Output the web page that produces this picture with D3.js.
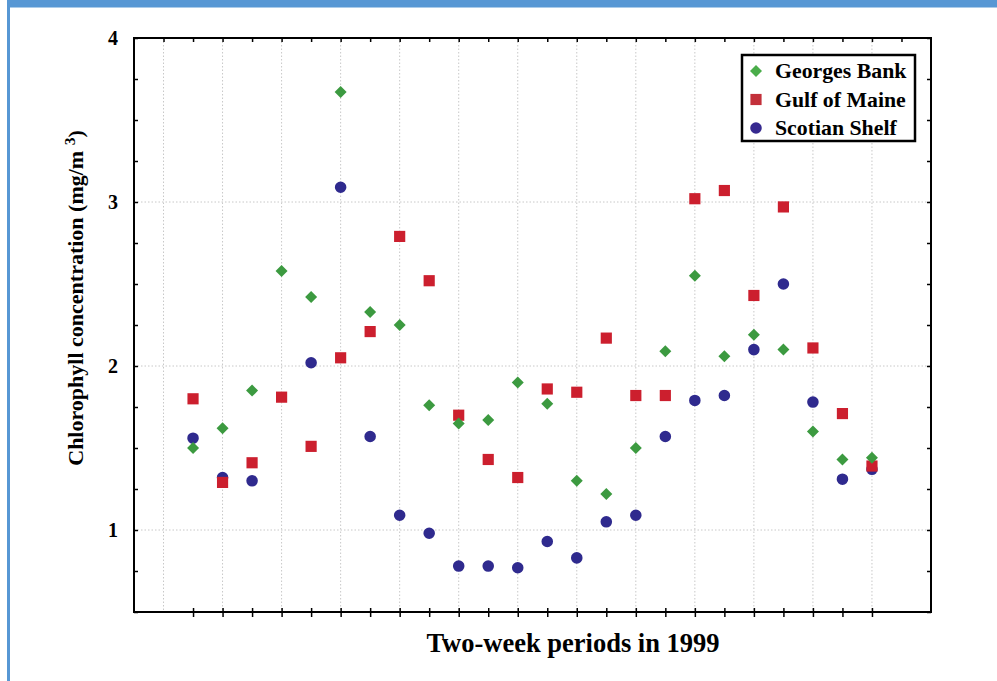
<!DOCTYPE html>
<html>
<head>
<meta charset="utf-8">
<script src="https://cdn.jsdelivr.net/npm/d3@7/dist/d3.min.js"></script>
<style>
  html, body { margin: 0; padding: 0; background: #fff; }
  svg { display: block; }
  text { font-family: "Liberation Serif", "Times New Roman", serif; font-weight: bold; }
</style>
</head>
<body>
<svg id="chart" width="997" height="681"></svg>
<script>
// ---- data ----
const periods = d3.range(1, 25); // two-week periods 1..24
const georgesBank = [1.50, 1.62, 1.85, 2.58, 2.42, 3.67, 2.33, 2.25, 1.76, 1.65, 1.67, 1.90,
                     1.77, 1.30, 1.22, 1.50, 2.09, 2.55, 2.06, 2.19, 2.10, 1.60, 1.43, 1.44];
const gulfOfMaine = [1.80, 1.29, 1.41, 1.81, 1.51, 2.05, 2.21, 2.79, 2.52, 1.70, 1.43, 1.32,
                     1.86, 1.84, 2.17, 1.82, 1.82, 3.02, 3.07, 2.43, 2.97, 2.11, 1.71, 1.39];
const scotianShelf = [1.56, 1.32, 1.30, null, 2.02, 3.09, 1.57, 1.09, 0.98, 0.78, 0.78, 0.77,
                      0.93, 0.83, 1.05, 1.09, 1.57, 1.79, 1.82, 2.10, 2.50, 1.78, 1.31, 1.37];
const yTickLabels = [1, 2, 3, 4];
const seriesNames = ["Georges Bank", "Gulf of Maine", "Scotian Shelf"];

// ---- layout ----
const svg = d3.select("#chart");
const L = 134, R = 931, T = 38, B = 612;
const x = d3.scaleLinear().domain([-1, 26]).range([L, R]);
const y = d3.scaleLinear().domain([0.5, 4]).range([B, T]);

// blue frame of the page
svg.append("rect").attr("x", 7).attr("y", 0).attr("width", 990).attr("height", 7.5).attr("fill", "#5797d4");
svg.append("rect").attr("x", 7).attr("y", 0).attr("width", 3).attr("height", 681).attr("fill", "#5797d4");

// grid
const grid = svg.append("g").attr("stroke", "#c8c8c8").attr("stroke-width", 1).attr("stroke-dasharray", "1.5,2");
grid.selectAll("line.v").data(d3.range(0, 25, 2)).join("line")
  .attr("x1", d => x(d)).attr("x2", d => x(d)).attr("y1", T).attr("y2", B);
grid.selectAll("line.h").data([1, 2, 3]).join("line")
  .attr("x1", L).attr("x2", R).attr("y1", d => y(d)).attr("y2", d => y(d));

// axes
const minorY = d3.range(0.5, 4.001, 0.25);
const leftAxis = d3.axisLeft(y).tickValues(minorY).tickSizeInner(-4).tickSizeOuter(0).tickPadding(16)
  .tickFormat(d => yTickLabels.includes(d) ? d3.format("d")(d) : "");
const gl = svg.append("g").attr("transform", `translate(${L},0)`).call(leftAxis);
gl.select(".domain").remove();
gl.selectAll("text").attr("font-size", 20).attr("fill", "#000").attr("font-family", "Liberation Serif").attr("font-weight", "bold");

const rightAxis = d3.axisRight(y).tickValues(minorY).tickSizeInner(-4).tickSizeOuter(0).tickFormat("");
const gr = svg.append("g").attr("transform", `translate(${R},0)`).call(rightAxis);
gr.select(".domain").remove();

const topAxis = d3.axisTop(x).tickValues(d3.range(0, 26)).tickSizeInner(-4).tickSizeOuter(0).tickFormat("");
const gt = svg.append("g").attr("transform", `translate(0,${T})`).call(topAxis);
gt.select(".domain").remove();

const bottomAxis = d3.axisBottom(x).tickValues(periods).tickSizeInner(9).tickSizeOuter(0).tickFormat("");
const gb = svg.append("g").attr("transform", `translate(0,${B - 4})`).call(bottomAxis);
gb.select(".domain").remove();
svg.selectAll(".tick line").attr("stroke", "#000").attr("stroke-width", 1.5);

// frame
svg.append("rect").attr("x", L).attr("y", T).attr("width", R - L).attr("height", B - T)
  .attr("fill", "none").attr("stroke", "#000").attr("stroke-width", 2);

// markers
const colors = { gb: "#3c9a40", gm: "#cc1f2e", ss: "#2f2a8e" };
const circle = d3.symbol().type(d3.symbolCircle).size(105);
const square = d3.symbol().type(d3.symbolSquare).size(125);
const diamond = d3.symbol().type(d3.symbolSquare).size(72);

const pts = (arr) => periods.map((p, i) => ({ p, v: arr[i] })).filter(d => d.v != null);

svg.append("g").selectAll("path").data(pts(scotianShelf)).join("path")
  .attr("d", circle).attr("fill", colors.ss)
  .attr("transform", d => `translate(${x(d.p)},${y(d.v)})`);
svg.append("g").selectAll("path").data(pts(gulfOfMaine)).join("path")
  .attr("d", square).attr("fill", colors.gm)
  .attr("transform", d => `translate(${x(d.p)},${y(d.v)})`);
svg.append("g").selectAll("path").data(pts(georgesBank)).join("path")
  .attr("d", diamond).attr("fill", colors.gb)
  .attr("transform", d => `translate(${x(d.p)},${y(d.v)}) rotate(45)`);

// legend
const lg = svg.append("g");
lg.append("rect").attr("x", 742).attr("y", 55).attr("width", 173).attr("height", 86)
  .attr("fill", "#fff").attr("stroke", "#000").attr("stroke-width", 2.5);
const legendShapes = [
  { sym: diamond, color: "#4aad4a", rot: 45 },
  { sym: square, color: "#c3303a", rot: 0 },
  { sym: circle, color: "#36298f", rot: 0 }
];
seriesNames.forEach((name, i) => {
  const cy = 71 + i * 28.5;
  lg.append("path").attr("d", legendShapes[i].sym).attr("fill", legendShapes[i].color)
    .attr("transform", `translate(756,${cy}) rotate(${legendShapes[i].rot})`);
  lg.append("text").attr("x", 775).attr("y", cy + 7).attr("font-size", 21.8).attr("fill", "#000").text(name);
});

// axis titles
svg.append("text").attr("x", 573).attr("y", 652).attr("text-anchor", "middle")
  .attr("font-size", 26.5).attr("fill", "#000").text("Two-week periods in 1999");

const yt = svg.append("text").attr("transform", "translate(83,298) rotate(-90)")
  .attr("text-anchor", "middle").attr("font-size", 22).attr("fill", "#000");
yt.append("tspan").text("Chlorophyll concentration (mg/m ");
yt.append("tspan").attr("font-size", 15.5).attr("dy", -8).text("3");
yt.append("tspan").attr("dy", 8).text(")");
</script>
</body>
</html>
